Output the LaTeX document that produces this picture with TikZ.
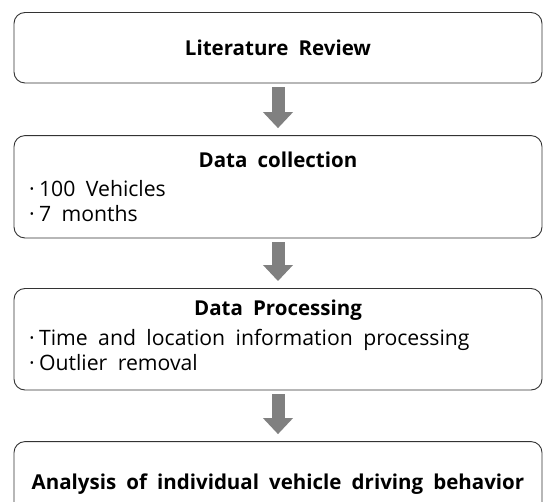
\documentclass[tikz,border=0pt]{standalone}
\usepackage{fontspec}
\setmainfont[WordSpace=1.9]{Open Sans}
\usetikzlibrary{arrows.meta,calc,positioning}

\begin{document}
\begin{tikzpicture}[
        x=1pt, y=-1pt,
        box/.style = {draw=black!80, line width=0.9pt, rounded corners=11pt, minimum width=528pt, inner sep=0pt},
        title/.style = {font=\fontsize{20.5}{24}\selectfont\bfseries, inner sep=0pt},
        items/.style = {font=\fontsize{21.2}{25}\selectfont, align=left, anchor=west, inner sep=0pt},
        flow/.style = {draw=black!50, line width=13pt, -{Triangle[width=29pt,length=16pt]}, shorten <=4pt, shorten >=7pt}]

    \def\cx{278}

    \clip (0,0) rectangle (544,502);
    \useasboundingbox (0,0) rectangle (544,502);

    \node (lit) at (\cx,47.75) [box, minimum height=70.5pt, title] {Literature Review};
    \node (coll) at (\cx,186.8) [box, minimum height=102.4pt] {};
    \node (proc) at (\cx,339.25) [box, minimum height=101.5pt] {};
    \node (anal) at (\cx,484.6) [box, minimum height=86pt, title] {Analysis of individual vehicle driving behavior};

    % box contents
    \node (colltitle) at (\cx,160) [title] {Data collection};
    \node (collitems) at (29,201) [items] {·\hspace{0.2em}100 Vehicles\\·\hspace{0.2em}7 months};
    \node (proctitle) at (\cx,310) [title] {Data Processing};
    \node (procitems) at (29,349.5) [items] {·\hspace{0.2em}Time and location information processing\\·\hspace{0.2em}Outlier removal};

    \draw[flow] (lit.south) -- (coll.north);
    \draw[flow] (coll.south) -- (proc.north);
    \draw[flow] (proc.south) -- (anal.north);

\end{tikzpicture}
\end{document}
